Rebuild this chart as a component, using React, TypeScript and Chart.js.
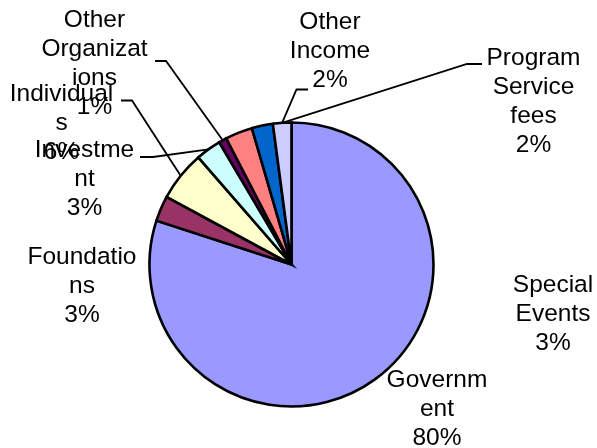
import React, { useEffect, useRef } from "react";
import { Chart, registerables } from "chart.js";

Chart.register(...registerables);

// ---- data ----
const categories = [
  "Government",
  "Foundations",
  "Individuals",
  "Investment",
  "Other Organizations",
  "Special Events",
  "Other Income",
  "Program Service fees",
];
const values = [80.0, 2.9, 5.7, 2.9, 0.9, 3.1, 2.4, 2.1];
const colors = [
  "#9999FF",
  "#993366",
  "#FFFFCC",
  "#CCFFFF",
  "#660066",
  "#FF8080",
  "#0066CC",
  "#CCCCFF",
];

// ---- layout (label placement, leader lines) ----
const FONT_SIZE = 24.5;
const LINE_H = 29;
const WRAP_W = 110;
// centre x and first baseline y of each label
const labelPos: [number, number][] = [
  [437, 387],
  [82, 264],
  [61.5, 100.5],
  [84.5, 157],
  [94.5, 26.5],
  [553, 292],
  [330, 28.5],
  [533.5, 65],
];
// leader: [label index, startX, startY, elbowX, elbowY, target slice index]
const leaders: [number, number, number, number, number, number][] = [
  [4, 155, 61, 166, 61, 4],
  [2, 121, 100.5, 132, 100.5, 2],
  [3, 140, 157, 153, 157, 3],
  [6, 308, 89.5, 296.5, 89.5, 7],
  [7, 482, 64, 467, 64, 7],
];

function wrapText(ctx: CanvasRenderingContext2D, text: string, maxW: number): string[] {
  const words = text.split(" ");
  const lines: string[] = [];
  let cur = "";
  for (let w of words) {
    const cand = cur ? cur + " " + w : w;
    if (ctx.measureText(cand).width <= maxW) {
      cur = cand;
      continue;
    }
    if (cur) lines.push(cur);
    cur = "";
    while (ctx.measureText(w).width > maxW && w.length > 1) {
      let k = w.length - 1;
      while (k > 1 && ctx.measureText(w.slice(0, k)).width > maxW) k--;
      lines.push(w.slice(0, k));
      w = w.slice(k);
    }
    cur = w;
  }
  if (cur) lines.push(cur);
  return lines;
}

const labelPlugin = {
  id: "excelLabels",
  afterDatasetsDraw(chart: any) {
    const ctx: CanvasRenderingContext2D = chart.ctx;
    const meta = chart.getDatasetMeta(0);
    const arcs = meta.data;
    const data: number[] = chart.data.datasets[0].data;
    const total = data.reduce((a, b) => a + b, 0);
    ctx.save();
    // leader lines
    ctx.strokeStyle = "#000";
    ctx.lineWidth = 1.8;
    ctx.lineJoin = "miter";
    for (const [, sx, sy, ex, ey, t] of leaders) {
      const a: any = arcs[t];
      const mid = (a.startAngle + a.endAngle) / 2;
      const r = a.outerRadius;
      const px = a.x + Math.cos(mid) * r;
      const py = a.y + Math.sin(mid) * r;
      ctx.beginPath();
      ctx.moveTo(sx, sy);
      ctx.lineTo(ex, ey);
      ctx.lineTo(px, py);
      ctx.stroke();
    }
    // labels
    ctx.font = `${FONT_SIZE}px "Liberation Sans", Arial, sans-serif`;
    ctx.fillStyle = "#000";
    ctx.textAlign = "center";
    ctx.textBaseline = "alphabetic";
    categories.forEach((name, i) => {
      const pct = Math.round((data[i] / total) * 100) + "%";
      const lines = wrapText(ctx, name, WRAP_W).concat([pct]);
      const [cx, by] = labelPos[i];
      lines.forEach((ln, j) => ctx.fillText(ln, cx, by + j * LINE_H));
    });
    ctx.restore();
  },
};

export default function App() {
  const ref = useRef<HTMLCanvasElement | null>(null);
  useEffect(() => {
    if (!ref.current) return;
    const chart = new Chart(ref.current, {
      type: "pie",
      data: {
        labels: categories,
        datasets: [
          {
            data: values,
            backgroundColor: colors,
            borderColor: "#000000",
            borderWidth: 2.6,
            borderJoinStyle: "miter",
          },
        ],
      },
      options: {
        responsive: false,
        animation: false,
        radius: 142,
        layout: { padding: { left: 0, right: 14, top: 81, bottom: 0 } },
        plugins: {
          legend: { display: false },
          tooltip: { enabled: false },
          title: { display: false },
        },
        events: [],
      } as any,
      plugins: [labelPlugin],
    });
    return () => chart.destroy();
  }, []);
  return (
    <div style={{ position: "absolute", left: 0, top: 0, width: 597, height: 448, background: "#fff" }}>
      <canvas ref={ref} width={597} height={448} style={{ width: 597, height: 448 }} />
    </div>
  );
}
